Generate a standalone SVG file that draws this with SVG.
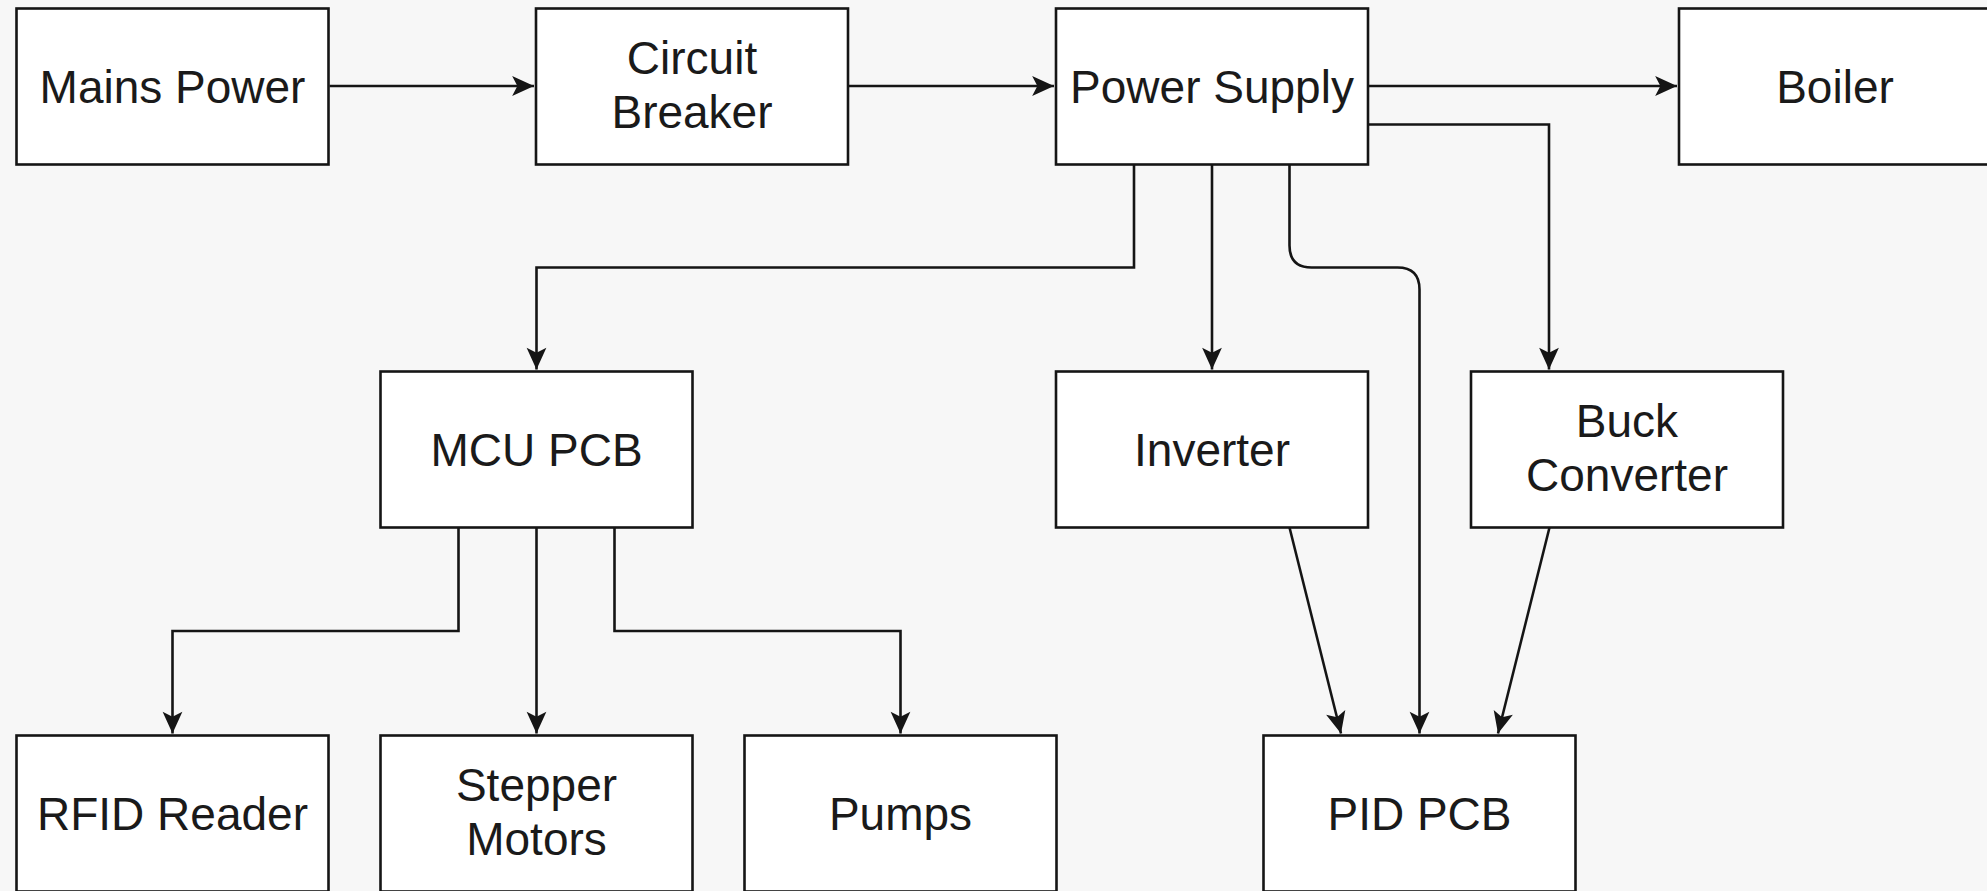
<svg xmlns="http://www.w3.org/2000/svg" width="1987" height="891" viewBox="0 0 1987 891">
<style>
.box{fill:#ffffff;stroke:#151515;stroke-width:2.6}
.lbl{font-family:"Liberation Sans",Arial,Helvetica,sans-serif;font-size:46px;fill:#1a1a1a;text-anchor:middle}
.edge{fill:none;stroke:#151515;stroke-width:2.6;marker-end:url(#arr)}
</style>
<defs>
<marker id="arr" markerUnits="userSpaceOnUse" markerWidth="26" markerHeight="26" viewBox="-23 -12 25 24" refX="0" refY="0" orient="auto">
<path d="M0 0 L-21 -9.5 L-16 0 L-21 9.5 Z" fill="#151515"/>
</marker>
</defs>
<rect x="0" y="0" width="1987" height="891" fill="#f7f7f7"/>
<g id="connectors">
<path class="edge" d="M329.5 86 L534 86"/>
<path class="edge" d="M848 86 L1054 86"/>
<path class="edge" d="M1367.5 86 L1677 86"/>
<path class="edge" d="M1367.5 124.5 L1549 124.5 L1549 369.5"/>
<path class="edge" d="M1134 164.5 L1134 267.5 L536.5 267.5 L536.5 369.5"/>
<path class="edge" d="M1212 164.5 L1212 369.5"/>
<path class="edge" d="M1289.5 164.5 L1289.5 245.5 Q1289.5 267.5 1311.5 267.5 L1397.5 267.5 Q1419.5 267.5 1419.5 289.5 L1419.5 733.5"/>
<path class="edge" d="M458.5 527.5 L458.5 631 L172.5 631 L172.5 733.5"/>
<path class="edge" d="M536.5 527.5 L536.5 733.5"/>
<path class="edge" d="M614.5 527.5 L614.5 631 L900.5 631 L900.5 733.5"/>
<path class="edge" d="M1289.5 527.5 L1341 733.5"/>
<path class="edge" d="M1549.5 527.5 L1498 733.5"/>
</g>
<g id="mains-power"><rect class="box" x="16.5" y="8.5" width="312" height="156"/><text class="lbl" x="172.5" y="102.5">Mains Power</text></g>
<g id="circuit-breaker"><rect class="box" x="536" y="8.5" width="312" height="156"/><text class="lbl" x="692" y="73.5">Circuit</text><text class="lbl" x="692" y="127.5">Breaker</text></g>
<g id="power-supply"><rect class="box" x="1056" y="8.5" width="312" height="156"/><text class="lbl" x="1212" y="102.5">Power Supply</text></g>
<g id="boiler"><rect class="box" x="1679" y="8.5" width="312" height="156"/><text class="lbl" x="1835" y="102.5">Boiler</text></g>
<g id="mcu-pcb"><rect class="box" x="380.5" y="371.5" width="312" height="156"/><text class="lbl" x="536.5" y="466">MCU PCB</text></g>
<g id="inverter"><rect class="box" x="1056" y="371.5" width="312" height="156"/><text class="lbl" x="1212" y="466">Inverter</text></g>
<g id="buck-converter"><rect class="box" x="1471" y="371.5" width="312" height="156"/><text class="lbl" x="1627" y="436.5">Buck</text><text class="lbl" x="1627" y="491">Converter</text></g>
<g id="rfid-reader"><rect class="box" x="16.5" y="735.5" width="312" height="156"/><text class="lbl" x="172.5" y="830">RFID Reader</text></g>
<g id="stepper-motors"><rect class="box" x="380.5" y="735.5" width="312" height="156"/><text class="lbl" x="536.5" y="800.5">Stepper</text><text class="lbl" x="536.5" y="855">Motors</text></g>
<g id="pumps"><rect class="box" x="744.5" y="735.5" width="312" height="156"/><text class="lbl" x="900.5" y="830">Pumps</text></g>
<g id="pid-pcb"><rect class="box" x="1263.5" y="735.5" width="312" height="156"/><text class="lbl" x="1419.5" y="830">PID PCB</text></g>
</svg>
